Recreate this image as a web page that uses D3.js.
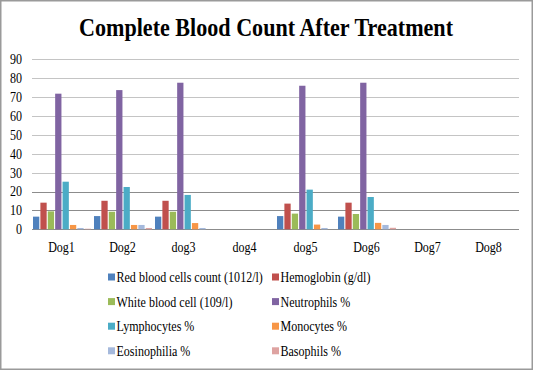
<html>
  <head>
    <title>Complete Blood Count After Treatment</title>
    <script type="text/javascript" src="https://cdn.jsdelivr.net/npm/d3@7"></script>
    <style type="text/css">

body {
  margin: 0;
  background: #fff;
}

text {
  font-family: "Liberation Serif", "Times New Roman", serif;
  fill: #000;
}

    </style>
  </head>
  <body>
    <script type="text/javascript">

var dogs = ["Dog1", "Dog2", "dog3", "dog4", "dog5", "Dog6", "Dog7", "Dog8"],
    series = ["Red blood cells count (1012/l)", "Hemoglobin (g/dl)",
              "White blood cell (109/l)", "Neutrophils %",
              "Lymphocytes %", "Monocytes %",
              "Eosinophilia %", "Basophils %"],
    colors = ["#4f81bd", "#c0504d", "#9bbb59", "#8064a2",
              "#4bacc6", "#f79646", "#a5b9dc", "#dea3a1"],
    yTicks = [0, 10, 20, 30, 40, 50, 60, 70, 80, 90];

// one array per dog, in series order
var values = [
  [6.7, 14.1, 9.5, 71.8, 25.2, 2.3, 0.7, 0.3],
  [7.0, 15.1, 9.3, 73.7, 22.4, 2.3, 2.3, 0.7],
  [6.7, 15.1, 9.3, 77.6, 18.2, 3.3, 0.7, 0],
  [0, 0, 0, 0, 0, 0, 0, 0],
  [7.0, 13.6, 8.3, 76.0, 21.0, 2.5, 0.7, 0],
  [6.7, 14.1, 8.1, 77.6, 17.1, 3.4, 2.3, 0.8],
  [0, 0, 0, 0, 0, 0, 0, 0],
  [0, 0, 0, 0, 0, 0, 0, 0]
];

var w = 534,
    h = 380,
    squeeze = 0.86; // the original text is a bit narrow

var svg = d3.select("body")
  .append("svg")
    .attr("width", w)
    .attr("height", h);

svg.append("rect")
    .attr("x", 0.75)
    .attr("y", 0.75)
    .attr("width", 531.5)
    .attr("height", 368.5)
    .attr("fill", "#fff")
    .attr("stroke", "#9a9a9a")
    .attr("stroke-width", 1.5);

svg.append("text")
    .attr("x", 266)
    .attr("y", 36)
    .attr("text-anchor", "middle")
    .attr("font-size", 25)
    .attr("font-weight", "bold")
    .attr("textLength", 374)
    .attr("lengthAdjust", "spacingAndGlyphs")
    .text("Complete Blood Count After Treatment");

var x = d3.scaleBand()
    .domain(dogs)
    .range([32, 520]);

var xs = d3.scaleBand()
    .domain(d3.range(series.length))
    .range([1, x.bandwidth() - 2])
    .paddingInner(0.15);

var y = d3.scaleLinear()
    .domain([0, 90])
    .range([229.3, 59.3]);

function place(px, py) {
  return "translate(" + px + "," + py + ") scale(" + squeeze + ",1)";
}

svg.append("g")
    .selectAll("line")
    .data(yTicks)
  .enter().append("line")
    .attr("x1", 32)
    .attr("x2", 519)
    .attr("y1", function(d) { return Math.round(y(d)) + 0.5; })
    .attr("y2", function(d) { return Math.round(y(d)) + 0.5; })
    .attr("stroke", function(d) { return d <= 20 ? "#8c8c8c" : "#c4c4c4"; })
    .attr("stroke-width", 1);

svg.append("g")
    .selectAll("text")
    .data(yTicks)
  .enter().append("text")
    .attr("transform", function(d) { return place(22, y(d)); })
    .attr("dy", ".35em")
    .attr("text-anchor", "end")
    .attr("font-size", 14)
    .text(function(d) { return d; });

var groups = svg.append("g")
    .selectAll("g.dog")
    .data(values)
  .enter().append("g")
    .attr("class", "dog")
    .attr("transform", function(d, i) { return "translate(" + x(dogs[i]) + ",0)"; });

groups.selectAll("rect")
    .data(function(d) { return d; })
  .enter().append("rect")
    .attr("x", function(d, i) { return xs(i); })
    .attr("y", function(d) { return y(d); })
    .attr("width", xs.bandwidth())
    .attr("height", function(d) { return y(0) - y(d); })
    .attr("fill", function(d, i) { return colors[i]; });

svg.append("g")
    .selectAll("text")
    .data(dogs)
  .enter().append("text")
    .attr("transform", function(d) { return place(x(d) + x.bandwidth() / 2 - 1, 252); })
    .attr("text-anchor", "middle")
    .attr("font-size", 14)
    .text(function(d) { return d; });

var legend = svg.append("g")
    .selectAll("g.item")
    .data(series)
  .enter().append("g")
    .attr("class", "item")
    .attr("transform", function(d, i) {
      return "translate(" + (i % 2 ? 272 : 108) + "," + (277 + Math.floor(i / 2) * 24.6) + ")";
    });

legend.append("rect")
    .attr("x", 0)
    .attr("y", -3.5)
    .attr("width", 7)
    .attr("height", 7)
    .attr("fill", function(d, i) { return colors[i]; });

legend.append("text")
    .attr("transform", place(8.5, 0))
    .attr("dy", ".35em")
    .attr("font-size", 14)
    .text(function(d) { return d; });

    </script>
  </body>
</html>
